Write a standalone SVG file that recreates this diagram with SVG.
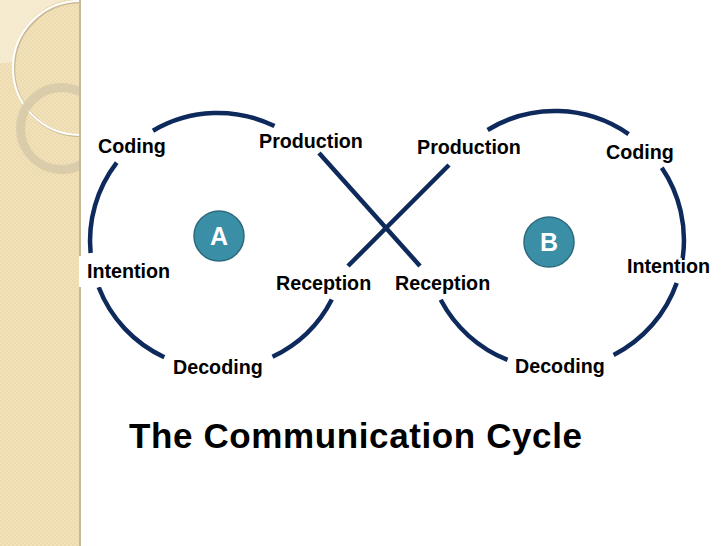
<svg xmlns="http://www.w3.org/2000/svg" width="728" height="546" viewBox="0 0 728 546">
  <defs>
    <pattern id="tex" width="4" height="4" patternUnits="userSpaceOnUse">
      <rect width="4" height="4" fill="#f2e2bb"/>
      <rect width="2" height="2" fill="#eddaae"/>
      <rect x="2" y="2" width="2" height="2" fill="#eddaae"/>
    </pattern>
    <clipPath id="strip"><rect x="0" y="0" width="80" height="546"/></clipPath>
    <style>
      .lbl { font-family: "Liberation Sans", Arial, sans-serif; font-weight: bold; font-size: 19.7px; fill: #000; }
      .title { font-family: "Liberation Sans", Arial, sans-serif; font-weight: bold; font-size: 35px; fill: #000; }
      .arc { fill: none; stroke: #0e2a5c; stroke-width: 4.5; }
      .bubble { fill: #3a8ea6; stroke: #2c6b7e; stroke-width: 1.5; }
      .letter { font-family: "Liberation Sans", Arial, sans-serif; font-weight: bold; font-size: 25px; fill: #fff; text-anchor: middle; }
    </style>
  </defs>

  <rect width="728" height="546" fill="#fff"/>

  <!-- decorative side strip -->
  <g id="side-strip">
    <rect x="0" y="0" width="80" height="546" fill="url(#tex)"/>
    <g clip-path="url(#strip)">
      <path d="M0,0 L64,0 A67,67 0 0 0 14,62 Q6,63 0,63 Z" fill="#f6ecd4" opacity="0.85"/>
      <circle cx="81" cy="69" r="67" fill="none" stroke="#b9aa86" stroke-width="2.5" opacity="0.7"/>
      <circle cx="80" cy="68" r="67" fill="none" stroke="#ffffff" stroke-width="2"/>
      <circle cx="62" cy="129" r="41" fill="none" stroke="#b8ab88" stroke-width="8" opacity="0.35"/>
      <circle cx="61" cy="128" r="41" fill="none" stroke="#d9ccab" stroke-width="8" opacity="0.85"/>
    </g>
    <rect x="79" y="0" width="2" height="546" fill="#c6b995"/>
  </g>

  <!-- connectors: cycle arcs and crossing lines -->
  <g id="connectors">
    <path class="arc" d="M153,130.7 A128,128 0 0 1 274.5,126.1"/>
    <path class="arc" d="M90.6,253 A128,128 0 0 1 116.7,162.7"/>
    <path class="arc" d="M164.3,357.2 A128,128 0 0 1 98.7,287.3"/>
    <path class="arc" d="M331.8,299.5 A128,128 0 0 1 272.5,356.8"/>

    <path class="arc" d="M487.6,130 A129,129 0 0 1 628.6,134.1"/>
    <path class="arc" d="M661.8,167.7 A129,129 0 0 1 682.7,258"/>
    <path class="arc" d="M676.7,282.9 A129,129 0 0 1 613.6,354.9"/>
    <path class="arc" d="M507.5,359.9 A129,129 0 0 1 440.7,299.8"/>

    <path class="arc" d="M319,153 L420,266"/>
    <path class="arc" d="M449,165 L348,266"/>
  </g>

  <!-- participants -->
  <g id="node-A">
    <circle class="bubble" cx="219" cy="236" r="25"/>
    <text class="letter" x="219" y="245">A</text>
  </g>
  <g id="node-B">
    <circle class="bubble" cx="549" cy="242" r="25"/>
    <text class="letter" x="549" y="251">B</text>
  </g>

  <!-- stage labels, cycle A -->
  <g id="label-coding-a"><text class="lbl" x="98" y="153">Coding</text></g>
  <g id="label-production-a"><text class="lbl" x="259" y="148">Production</text></g>
  <g id="label-intention-a">
    <rect x="79" y="256" width="96" height="31" fill="#fff"/>
    <text class="lbl" x="87" y="278">Intention</text>
  </g>
  <g id="label-reception-a"><text class="lbl" x="276" y="290">Reception</text></g>
  <g id="label-decoding-a"><text class="lbl" x="173" y="374">Decoding</text></g>

  <!-- stage labels, cycle B -->
  <g id="label-production-b"><text class="lbl" x="417" y="154">Production</text></g>
  <g id="label-coding-b"><text class="lbl" x="606" y="159">Coding</text></g>
  <g id="label-intention-b"><text class="lbl" x="627" y="273">Intention</text></g>
  <g id="label-reception-b"><text class="lbl" x="395" y="290">Reception</text></g>
  <g id="label-decoding-b"><text class="lbl" x="515" y="373">Decoding</text></g>

  <g id="title">
    <text class="title" x="129" y="448" textLength="453" lengthAdjust="spacing">The Communication Cycle</text>
  </g>
</svg>
